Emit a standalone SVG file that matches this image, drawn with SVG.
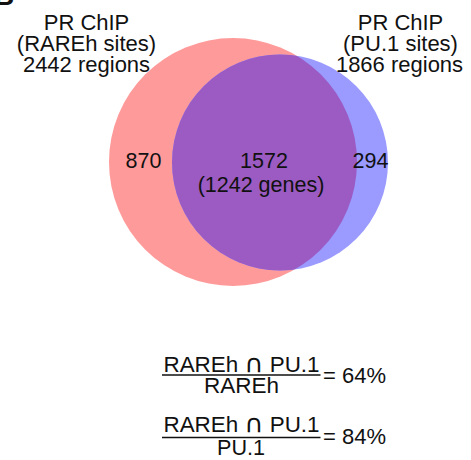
<svg xmlns="http://www.w3.org/2000/svg" width="471" height="460" viewBox="0 0 471 460">
  <style>
    text { font-family: "Liberation Sans", Arial, sans-serif; fill: #111; }
    .hd { font-size: 22px; text-anchor: middle; }
    .num { font-size: 21.5px; text-anchor: middle; }
    .f { font-size: 21.5px; text-anchor: middle; }
    .cap { font-family: "DejaVu Sans", sans-serif; font-size: 25px; }
    .eq { font-size: 22px; text-anchor: start; }
    .bar { stroke: #111; stroke-width: 1.6; }
  </style>
  <defs>
    <clipPath id="clipRed">
      <circle cx="233" cy="162" r="124"/>
    </clipPath>
  </defs>
  <rect width="471" height="460" fill="#ffffff"/>
  <text x="-6" y="5" style="font-size:28px;font-weight:bold">B</text>

  <g id="set-rareh">
    <circle cx="233" cy="162" r="124" fill="#ff9a9a"/>
  </g>
  <g id="set-pu1">
    <circle cx="280" cy="162.5" r="108" fill="#9a9aff"/>
  </g>
  <g id="overlap">
    <circle cx="280" cy="162.5" r="108" fill="#9b5bc2" clip-path="url(#clipRed)"/>
  </g>

  <g id="label-rareh">
    <text class="hd" x="86.5" y="30">PR ChIP</text>
    <text class="hd" x="86.5" y="51">(RAREh sites)</text>
    <text class="hd" x="86.5" y="72">2442 regions</text>
  </g>
  <g id="label-pu1">
    <text class="hd" x="400.5" y="30">PR ChIP</text>
    <text class="hd" x="400.5" y="51">(PU.1 sites)</text>
    <text class="hd" x="399.5" y="72">1866 regions</text>
  </g>

  <g id="counts">
    <text class="num" x="143.5" y="167.5">870</text>
    <text class="num" x="264" y="167.5">1572</text>
    <text class="num" x="261" y="191.5">(1242 genes)</text>
    <text class="num" x="370.5" y="167.5">294</text>
  </g>

  <g id="formula1">
    <text class="f" x="241.5" y="372" textLength="156" lengthAdjust="spacingAndGlyphs">RAREh <tspan class="cap">∩</tspan> PU.1</text>
    <line class="bar" x1="162" y1="375" x2="320.5" y2="375"/>
    <text class="f" x="241.5" y="392.5" textLength="75" lengthAdjust="spacingAndGlyphs">RAREh</text>
    <text class="eq" x="323" y="383">= 64%</text>
  </g>
  <g id="formula2">
    <text class="f" x="241.5" y="432" textLength="156" lengthAdjust="spacingAndGlyphs">RAREh <tspan class="cap">∩</tspan> PU.1</text>
    <line class="bar" x1="162" y1="437.5" x2="320.5" y2="437.5"/>
    <text class="f" x="241" y="454.5" textLength="48" lengthAdjust="spacingAndGlyphs">PU.1</text>
    <text class="eq" x="323" y="444">= 84%</text>
  </g>
</svg>
